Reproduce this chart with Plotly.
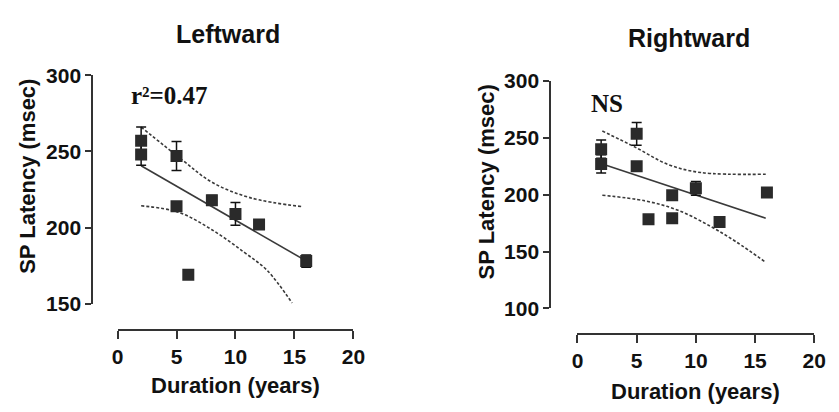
import plotly.graph_objects as go

# ---------------- data ----------------
left_x = [2, 2, 5, 5, 6, 8, 10, 12, 16]
left_y = [257, 248, 247, 214, 169, 218, 209, 202, 178]
left_err = [9, 7, 9.5, 0, 0, 3, 7.5, 3, 4]
left_fit_x = [2, 15.8]
left_fit_y = [240.6, 179]
left_up_x = [2, 5.5, 8, 11.3, 15.7]
left_up_y = [266, 244.3, 229.8, 219.5, 213.7]
left_lo_x = [2, 5.2, 8, 10.7, 12.7, 14.8]
left_lo_y = [214.3, 210, 198.6, 184, 171.8, 150.5]

right_x = [2, 2, 5, 5, 6, 8, 8, 10, 12, 16]
right_y = [240, 227, 253.5, 225, 178.5, 199.5, 179.4, 205.6, 176, 202]
right_err = [8, 8, 10, 0, 0, 0, 0, 6, 0, 0]
right_fit_x = [2.1, 15.9]
right_fit_y = [227, 179.4]
right_up_x = [2.1, 4.9, 7.7, 10.4, 15.9]
right_up_y = [256, 241.6, 226.4, 219.5, 218]
right_lo_x = [2.1, 5.7, 8.5, 11.2, 13.4, 15.9]
right_lo_y = [199.5, 194.6, 186.3, 172.4, 158.6, 140.6]

x_ticks = [0, 5, 10, 15, 20]
left_y_ticks = [150, 200, 250, 300]
right_y_ticks = [100, 150, 200, 250, 300]

W, H = 839, 412
def px(v): return v / W
def py(v): return 1 - v / H

MARK = "#2a2a2a"
LINE = "#3a3a3a"

fig = go.Figure()

def add_panel(xs, ys, errs, fx, fy, ux, uy, lx, ly, xa, ya):
    fig.add_trace(go.Scatter(x=ux, y=uy, mode="lines", line=dict(color=LINE, width=1.6, dash="3px,2px", shape="spline"),
                             xaxis=xa, yaxis=ya, showlegend=False, hoverinfo="skip"))
    fig.add_trace(go.Scatter(x=lx, y=ly, mode="lines", line=dict(color=LINE, width=1.6, dash="3px,2px", shape="spline"),
                             xaxis=xa, yaxis=ya, showlegend=False, hoverinfo="skip"))
    fig.add_trace(go.Scatter(x=fx, y=fy, mode="lines", line=dict(color=LINE, width=1.6),
                             xaxis=xa, yaxis=ya, showlegend=False, hoverinfo="skip"))
    fig.add_trace(go.Scatter(x=xs, y=ys, mode="markers",
                             marker=dict(symbol="square", size=12, color=MARK, line=dict(width=0)),
                             error_y=dict(type="data", array=errs, visible=True, color="#111111", thickness=1.5, width=5),
                             xaxis=xa, yaxis=ya, showlegend=False))

add_panel(left_x, left_y, left_err, left_fit_x, left_fit_y, left_up_x, left_up_y, left_lo_x, left_lo_y, "x", "y")
add_panel(right_x, right_y, right_err, right_fit_x, right_fit_y, right_up_x, right_up_y, right_lo_x, right_lo_y, "x2", "y2")

tickfont = dict(family="Liberation Sans, Arial, sans-serif", size=21, color="#111111", weight="bold")
axis_common = dict(showgrid=False, zeroline=False, showline=True, linecolor="#333333", linewidth=1.5,
                   ticks="outside", tickwidth=1.5, tickcolor="#333333", tickfont=tickfont)

fig.update_layout(
    width=W, height=H,
    margin=dict(l=0, r=0, t=0, b=0),
    paper_bgcolor="white", plot_bgcolor="white",
    font=dict(family="Liberation Sans, Arial, sans-serif", color="#111111"),
    xaxis=dict(domain=[px(114), px(355)], range=[0, 20], tickvals=x_ticks, anchor="free", position=py(337), ticklen=8, **axis_common),
    yaxis=dict(domain=[py(309), py(67)], range=[150, 300], tickvals=left_y_ticks, anchor="free", position=px(88), ticklen=6, **axis_common),
    xaxis2=dict(domain=[px(584), px(826)], range=[0, 20], tickvals=x_ticks, anchor="free", position=py(341), ticklen=8, **axis_common),
    yaxis2=dict(domain=[py(314), py(73)], range=[100, 300], tickvals=right_y_ticks, anchor="free", position=px(556), ticklen=6, **axis_common),
)

title_font = dict(family="Liberation Sans, Arial, sans-serif", size=25, color="#111111", weight="bold")
axt_font = dict(family="Liberation Sans, Arial, sans-serif", size=22, color="#111111", weight="bold")
serif_font = dict(family="Liberation Serif, Times New Roman, serif", size=25, color="#111111", weight="bold")

anns = [
    dict(text="Leftward", x=px(227), y=py(23), font=title_font),
    dict(text="Rightward", x=px(698), y=py(28), font=title_font),
    dict(text="SP Latency (msec)", x=px(22), y=py(174), font=axt_font, textangle=-90),
    dict(text="SP Latency (msec)", x=px(492), y=py(180), font=axt_font, textangle=-90),
    dict(text="Duration (years)", x=px(235), y=py(396), font=axt_font),
    dict(text="Duration (years)", x=px(705), y=py(402), font=axt_font),
    dict(text="r²=0.47", x=px(167), y=py(88), font=serif_font),
    dict(text="NS", x=px(614), y=py(97), font=serif_font),
]
for a in anns:
    fig.add_annotation(xref="paper", yref="paper", showarrow=False, xanchor="center", yanchor="middle", **a)

fig.write_html("out.html")
